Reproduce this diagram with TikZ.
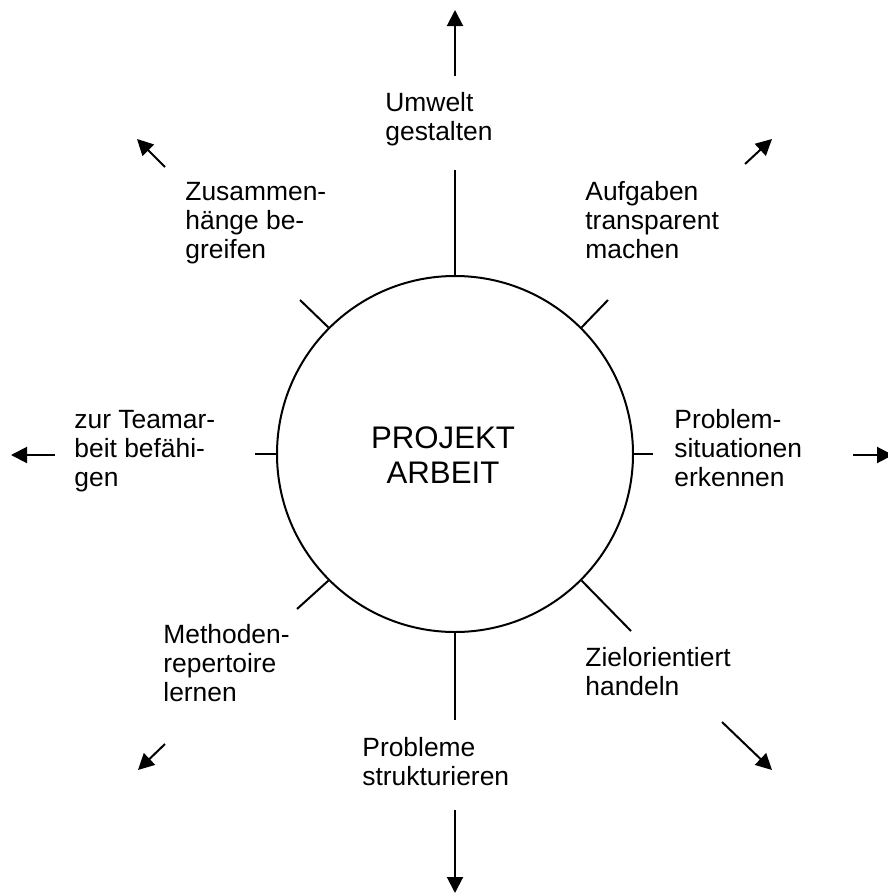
\documentclass[tikz,border=0pt]{standalone}
\usepackage{fontspec}
\setmainfont{Liberation Sans}
\usetikzlibrary{arrows.meta}

\tikzset{
	goal/.style = {align=left, anchor=base west, inner sep=0pt,
		font=\fontsize{13.2}{14.5}\selectfont},
	spoke/.style = {line width=1pt},
	outarrow/.style = {line width=1pt, -{Triangle[length=8pt, width=8pt]}}
}

\begin{document}
\begin{tikzpicture}[x=0.5pt, y=-0.5pt]
			\useasboundingbox (0, 0) rectangle (888, 894);
			% centre
			\node[draw, circle, line width=1pt, minimum size=178pt, inner sep=0pt] (pa) at (455, 454) {};
			\node[align=center, inner sep=0pt, font=\fontsize{15.6}{17.5}\selectfont] (patext) at (443, 455) {PROJEKT\\ARBEIT};
			% labels (placed at the baseline of their last line)
			\node[goal] (umwelt) at (385, 140) {Umwelt\\gestalten};
			\node[goal] (aufgaben) at (585, 258) {Aufgaben\\transparent\\machen};
			\node[goal] (problem) at (674, 486) {Problem-\\situationen\\erkennen};
			\node[goal] (ziel) at (585, 695) {Zielorientiert\\handeln};
			\node[goal] (probleme) at (362, 785) {Probleme\\strukturieren};
			\node[goal] (methoden) at (163, 701) {Methoden-\\repertoire\\lernen};
			\node[goal] (team) at (74, 486) {zur Teamar-\\beit befähi-\\gen};
			\node[goal] (zusammen) at (185, 258) {Zusammen-\\hänge be-\\greifen};
			% spokes
			\coordinate (nEnd) at (455, 170);
			\coordinate (neEnd) at (608, 300);
			\coordinate (eEnd) at (653, 454);
			\coordinate (seEnd) at (631, 631);
			\coordinate (sEnd) at (455, 720);
			\coordinate (swEnd) at (297, 609);
			\coordinate (wEnd) at (255, 454);
			\coordinate (nwEnd) at (300, 300);
			\draw[spoke] (pa.north) -- (nEnd);
			\draw[spoke] (pa.45) -- (neEnd);
			\draw[spoke] (pa.east) -- (eEnd);
			\draw[spoke] (pa.-45) -- (seEnd);
			\draw[spoke] (pa.south) -- (sEnd);
			\draw[spoke] (pa.-135) -- (swEnd);
			\draw[spoke] (pa.west) -- (wEnd);
			\draw[spoke] (pa.135) -- (nwEnd);
			% arrows
			\coordinate (nFrom) at (455, 76);   \coordinate (nTo) at (455, 10);
			\coordinate (neFrom) at (745, 164); \coordinate (neTo) at (772, 139);
			\coordinate (eFrom) at (853, 455);  \coordinate (eTo) at (893, 455);
			\coordinate (seFrom) at (722, 722); \coordinate (seTo) at (772, 770);
			\coordinate (sFrom) at (455, 810);  \coordinate (sTo) at (455, 893);
			\coordinate (swFrom) at (165, 744); \coordinate (swTo) at (138, 770);
			\coordinate (wFrom) at (55, 455);   \coordinate (wTo) at (11, 455);
			\coordinate (nwFrom) at (165, 167); \coordinate (nwTo) at (137, 139);
			\foreach \dir in {n, ne, e, se, s, sw, w, nw}
				\draw[outarrow] (\dir From) -- (\dir To);
		\end{tikzpicture}
\end{document}
